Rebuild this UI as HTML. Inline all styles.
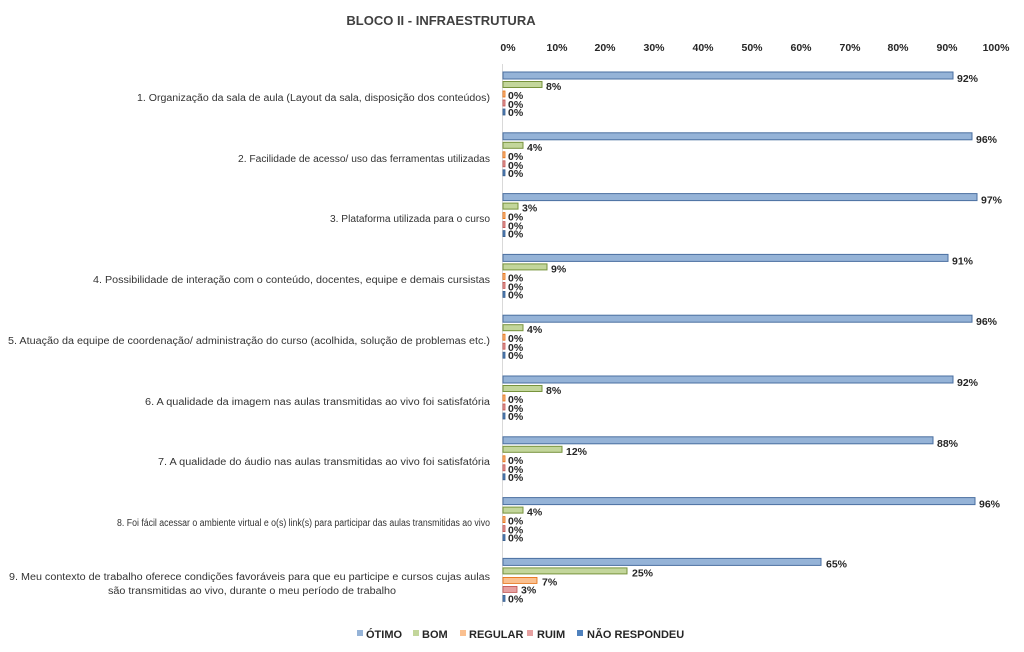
<!DOCTYPE html>
<html><head><meta charset="utf-8"><style>
html,body{margin:0;padding:0;background:#fff;}
svg{display:block;font-family:"Liberation Sans",sans-serif;}
.c{font-size:10px;fill:#333;text-anchor:end;}
.v{font-size:10.5px;fill:#262626;font-weight:bold;}
.t{font-size:10.5px;fill:#262626;font-weight:bold;text-anchor:middle;}
</style></head><body>
<svg width="1024" height="652" viewBox="0 0 1024 652">
<text x="441" y="25" text-anchor="middle" font-size="13" font-weight="bold" fill="#404040">BLOCO II - INFRAESTRUTURA</text>
<g>
<text class="t" x="508" y="51">0%</text><text class="t" x="557" y="51">10%</text><text class="t" x="605" y="51">20%</text><text class="t" x="654" y="51">30%</text><text class="t" x="703" y="51">40%</text><text class="t" x="752" y="51">50%</text><text class="t" x="801" y="51">60%</text><text class="t" x="850" y="51">70%</text><text class="t" x="898" y="51">80%</text><text class="t" x="947" y="51">90%</text><text class="t" x="996" y="51">100%</text>
</g>
<line x1="502.5" y1="64" x2="502.5" y2="606" stroke="#d9d9d9"/>
<g class="c">
<text x="490" y="101" textLength="353" lengthAdjust="spacingAndGlyphs">1. Organização da sala de aula (Layout da sala, disposição dos conteúdos)</text>
<text x="490" y="162" textLength="252" lengthAdjust="spacingAndGlyphs">2. Facilidade de acesso/ uso das ferramentas utilizadas</text>
<text x="490" y="222" textLength="160" lengthAdjust="spacingAndGlyphs">3. Plataforma utilizada para o curso</text>
<text x="490" y="283" textLength="397" lengthAdjust="spacingAndGlyphs">4. Possibilidade de interação com o conteúdo, docentes, equipe e demais cursistas</text>
<text x="490" y="344" textLength="482" lengthAdjust="spacingAndGlyphs">5. Atuação da equipe de coordenação/ administração do curso (acolhida, solução de problemas etc.)</text>
<text x="490" y="405" textLength="345" lengthAdjust="spacingAndGlyphs">6. A qualidade da imagem nas aulas transmitidas ao vivo foi satisfatória</text>
<text x="490" y="465" textLength="332" lengthAdjust="spacingAndGlyphs">7. A qualidade do áudio nas aulas transmitidas ao vivo foi satisfatória</text>
<text x="490" y="526" textLength="373" lengthAdjust="spacingAndGlyphs">8. Foi fácil acessar o ambiente virtual e o(s) link(s) para participar das aulas transmitidas ao vivo</text>
<text x="490" y="580" textLength="481" lengthAdjust="spacingAndGlyphs">9. Meu contexto de trabalho oferece condições favoráveis para que eu participe e cursos cujas aulas</text>
<text x="396" y="594" textLength="288" lengthAdjust="spacingAndGlyphs">são transmitidas ao vivo, durante o meu período de trabalho</text>
</g>
<defs>
<g id="z">
<rect x="503" y="19" width="2" height="6" fill="#fac090" stroke="#e46c0a" stroke-width="0.8"/>
<rect x="503" y="28" width="2" height="6" fill="#e6a0a0" stroke="#c0504d" stroke-width="0.8"/>
<rect x="503" y="37" width="2" height="6" fill="#4f81bd" stroke="#385d8a" stroke-width="0.8"/>
</g>
</defs>
<g stroke-width="1">
<g transform="translate(0,72)"><rect x="503" y="0" width="450" height="7" fill="#95b3d7" stroke="#4a6fa0"/><rect x="503" y="9.5" width="39" height="6" fill="#c3d69b" stroke="#77933c"/><use href="#z"/>
<text class="v" x="957" y="10">92%</text><text class="v" x="546" y="18">8%</text><text class="v" x="508" y="27">0%</text><text class="v" x="508" y="36">0%</text><text class="v" x="508" y="44">0%</text></g>
<g transform="translate(0,132.8)"><rect x="503" y="0" width="469" height="7" fill="#95b3d7" stroke="#4a6fa0"/><rect x="503" y="9.5" width="20" height="6" fill="#c3d69b" stroke="#77933c"/><use href="#z"/>
<text class="v" x="976" y="10">96%</text><text class="v" x="527" y="18">4%</text><text class="v" x="508" y="27">0%</text><text class="v" x="508" y="36">0%</text><text class="v" x="508" y="44">0%</text></g>
<g transform="translate(0,193.6)"><rect x="503" y="0" width="474" height="7" fill="#95b3d7" stroke="#4a6fa0"/><rect x="503" y="9.5" width="15" height="6" fill="#c3d69b" stroke="#77933c"/><use href="#z"/>
<text class="v" x="981" y="10">97%</text><text class="v" x="522" y="18">3%</text><text class="v" x="508" y="27">0%</text><text class="v" x="508" y="36">0%</text><text class="v" x="508" y="44">0%</text></g>
<g transform="translate(0,254.4)"><rect x="503" y="0" width="445" height="7" fill="#95b3d7" stroke="#4a6fa0"/><rect x="503" y="9.5" width="44" height="6" fill="#c3d69b" stroke="#77933c"/><use href="#z"/>
<text class="v" x="952" y="10">91%</text><text class="v" x="551" y="18">9%</text><text class="v" x="508" y="27">0%</text><text class="v" x="508" y="36">0%</text><text class="v" x="508" y="44">0%</text></g>
<g transform="translate(0,315.2)"><rect x="503" y="0" width="469" height="7" fill="#95b3d7" stroke="#4a6fa0"/><rect x="503" y="9.5" width="20" height="6" fill="#c3d69b" stroke="#77933c"/><use href="#z"/>
<text class="v" x="976" y="10">96%</text><text class="v" x="527" y="18">4%</text><text class="v" x="508" y="27">0%</text><text class="v" x="508" y="36">0%</text><text class="v" x="508" y="44">0%</text></g>
<g transform="translate(0,376)"><rect x="503" y="0" width="450" height="7" fill="#95b3d7" stroke="#4a6fa0"/><rect x="503" y="9.5" width="39" height="6" fill="#c3d69b" stroke="#77933c"/><use href="#z"/>
<text class="v" x="957" y="10">92%</text><text class="v" x="546" y="18">8%</text><text class="v" x="508" y="27">0%</text><text class="v" x="508" y="36">0%</text><text class="v" x="508" y="44">0%</text></g>
<g transform="translate(0,436.8)"><rect x="503" y="0" width="430" height="7" fill="#95b3d7" stroke="#4a6fa0"/><rect x="503" y="9.5" width="59" height="6" fill="#c3d69b" stroke="#77933c"/><use href="#z"/>
<text class="v" x="937" y="10">88%</text><text class="v" x="566" y="18">12%</text><text class="v" x="508" y="27">0%</text><text class="v" x="508" y="36">0%</text><text class="v" x="508" y="44">0%</text></g>
<g transform="translate(0,497.6)"><rect x="503" y="0" width="472" height="7" fill="#95b3d7" stroke="#4a6fa0"/><rect x="503" y="9.5" width="20" height="6" fill="#c3d69b" stroke="#77933c"/><use href="#z"/>
<text class="v" x="979" y="10">96%</text><text class="v" x="527" y="18">4%</text><text class="v" x="508" y="27">0%</text><text class="v" x="508" y="36">0%</text><text class="v" x="508" y="44">0%</text></g>
<g transform="translate(0,558.4)"><rect x="503" y="0" width="318" height="7" fill="#95b3d7" stroke="#4a6fa0"/><rect x="503" y="9.5" width="124" height="6" fill="#c3d69b" stroke="#77933c"/>
<rect x="503" y="19" width="34" height="6" fill="#fac090" stroke="#e46c0a" stroke-width="0.8"/>
<rect x="503" y="28" width="14" height="6" fill="#e6a0a0" stroke="#c0504d" stroke-width="0.8"/>
<rect x="503" y="37" width="2" height="6" fill="#4f81bd" stroke="#385d8a" stroke-width="0.8"/>
<text class="v" x="826" y="9">65%</text><text class="v" x="632" y="18">25%</text><text class="v" x="542" y="27">7%</text><text class="v" x="521" y="35">3%</text><text class="v" x="508" y="44">0%</text></g>
</g>
<g font-size="11" font-weight="bold" fill="#262626">
<rect x="357" y="630" width="6" height="6" fill="#95b3d7"/><text x="366" y="638">ÓTIMO</text>
<rect x="413" y="630" width="6" height="6" fill="#c3d69b"/><text x="422" y="638">BOM</text>
<rect x="460" y="630" width="6" height="6" fill="#fac090"/><text x="469" y="638">REGULAR</text>
<rect x="527" y="630" width="6" height="6" fill="#e6a0a0"/><text x="537" y="638">RUIM</text>
<rect x="577" y="630" width="6" height="6" fill="#4f81bd"/><text x="587" y="638">NÃO RESPONDEU</text>
</g>
</svg>
</body></html>
